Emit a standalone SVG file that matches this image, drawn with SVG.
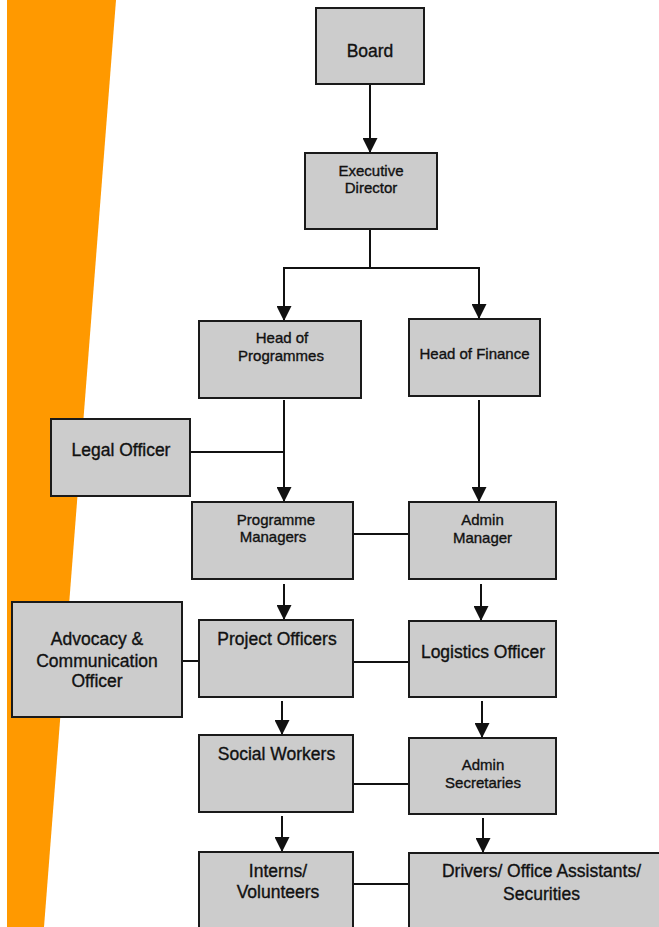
<svg xmlns="http://www.w3.org/2000/svg" width="659" height="927" viewBox="0 0 659 927">
<style>
.box{fill:#cccccc;stroke:#1a1a1a;stroke-width:2}
.t{font-family:"Liberation Sans",Arial,sans-serif;font-size:17.5px;fill:#111;stroke:#111;stroke-width:0.35px;text-anchor:middle}
.s{font-size:15px}
.c{fill:none;stroke:#111;stroke-width:2}
</style>
<defs>
<marker id="ah" markerUnits="userSpaceOnUse" markerWidth="15" markerHeight="15" refX="15" refY="7.5" orient="auto">
<path d="M0,0 L15,7.5 L0,15 z" fill="#111"/>
</marker>
</defs>
<rect width="659" height="927" fill="#ffffff"/>
<polygon points="7,0 116,0 44,927 7,927" fill="#ff9900"/>
<g id="connectors">
<line class="c" x1="370" y1="84" x2="370" y2="153" marker-end="url(#ah)"/>
<polyline class="c" points="370,229 370,268"/>
<line class="c" x1="283" y1="268" x2="480" y2="268"/>
<line class="c" x1="284" y1="268" x2="284" y2="321" marker-end="url(#ah)"/>
<line class="c" x1="479" y1="268" x2="479" y2="319" marker-end="url(#ah)"/>
<line class="c" x1="284" y1="400" x2="284" y2="502" marker-end="url(#ah)"/>
<line class="c" x1="190" y1="452" x2="284" y2="452"/>
<line class="c" x1="479" y1="400" x2="479" y2="502" marker-end="url(#ah)"/>
<line class="c" x1="353" y1="534" x2="409" y2="534"/>
<line class="c" x1="284" y1="584" x2="284" y2="620" marker-end="url(#ah)"/>
<line class="c" x1="481" y1="584" x2="481" y2="621" marker-end="url(#ah)"/>
<line class="c" x1="182" y1="661" x2="199" y2="661"/>
<line class="c" x1="353" y1="662" x2="409" y2="662"/>
<line class="c" x1="282" y1="701" x2="282" y2="735" marker-end="url(#ah)"/>
<line class="c" x1="482" y1="701" x2="482" y2="738" marker-end="url(#ah)"/>
<line class="c" x1="353" y1="784" x2="409" y2="784"/>
<line class="c" x1="282" y1="816" x2="282" y2="852" marker-end="url(#ah)"/>
<line class="c" x1="483" y1="818" x2="483" y2="853" marker-end="url(#ah)"/>
<line class="c" x1="353" y1="884" x2="409" y2="884"/>
</g>
<g id="board"><rect class="box" x="316" y="8" width="108" height="76"/><text class="t" x="370" y="57">Board</text></g>
<g id="executive-director"><rect class="box" x="305" y="153" width="132" height="76"/><text class="t s" x="371" y="176">Executive</text><text class="t s" x="371" y="193">Director</text></g>
<g id="head-of-programmes"><rect class="box" x="199" y="321" width="162" height="77"/><text class="t s" x="282" y="343">Head of</text><text class="t s" x="281" y="361">Programmes</text></g>
<g id="head-of-finance"><rect class="box" x="409" y="319" width="131" height="77"/><text class="t s" x="474.5" y="359">Head of Finance</text></g>
<g id="legal-officer"><rect class="box" x="51" y="419" width="139" height="77"/><text class="t" x="121" y="456">Legal Officer</text></g>
<g id="programme-managers"><rect class="box" x="192" y="502" width="161" height="77"/><text class="t s" x="276" y="525">Programme</text><text class="t s" x="273" y="542">Managers</text></g>
<g id="admin-manager"><rect class="box" x="409" y="502" width="147" height="77"/><text class="t s" x="482.5" y="525">Admin</text><text class="t s" x="482.5" y="543">Manager</text></g>
<g id="advocacy-communication-officer"><rect class="box" x="12" y="602" width="170" height="115"/><text class="t" x="97" y="645">Advocacy &amp;</text><text class="t" x="97" y="667">Communication</text><text class="t" x="97" y="687">Officer</text></g>
<g id="project-officers"><rect class="box" x="199" y="620" width="154" height="77"/><text class="t" x="277" y="645">Project Officers</text></g>
<g id="logistics-officer"><rect class="box" x="409" y="621" width="147" height="76"/><text class="t" x="483" y="658">Logistics Officer</text></g>
<g id="social-workers"><rect class="box" x="199" y="735" width="154" height="77"/><text class="t" x="276.5" y="760">Social Workers</text></g>
<g id="admin-secretaries"><rect class="box" x="409" y="738" width="147" height="76"/><text class="t s" x="483" y="770">Admin</text><text class="t s" x="483" y="788">Secretaries</text></g>
<g id="interns-volunteers"><rect class="box" x="199" y="852" width="154" height="90"/><text class="t" x="278" y="877">Interns/</text><text class="t" x="278" y="898">Volunteers</text></g>
<g id="drivers-office-assistants-securities"><rect class="box" x="409" y="853" width="270" height="90"/><text class="t" x="541.5" y="877">Drivers/ Office Assistants/</text><text class="t" x="541.5" y="900">Securities</text></g>
</svg>
